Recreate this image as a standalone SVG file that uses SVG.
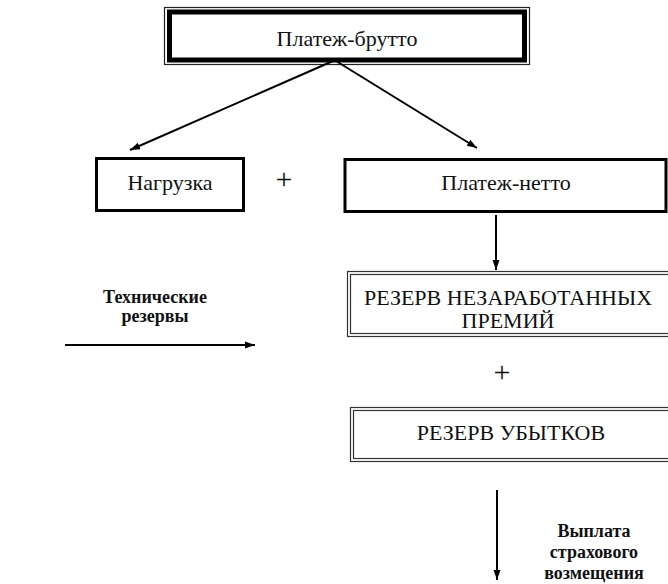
<svg xmlns="http://www.w3.org/2000/svg" width="668" height="584" viewBox="0 0 668 584">
  <defs>
    <marker id="arrow" viewBox="0 0 10 10" refX="10" refY="5" markerWidth="10" markerHeight="10" markerUnits="userSpaceOnUse" orient="auto">
      <path d="M0,1.5 L10,5 L0,8.5 Z" fill="#000"/>
    </marker>
    <marker id="arrowLong" viewBox="0 0 10 16" refX="10" refY="8" markerWidth="10" markerHeight="16" markerUnits="userSpaceOnUse" orient="auto">
      <path d="M0,4.5 L10,8 L0,11.5 Z" fill="#000"/>
    </marker>
  </defs>
  <style>
    .label { font-size: 22px; fill: #111; text-anchor: middle; }
    .note { font-size: 18px; font-weight: bold; fill: #111; text-anchor: middle; }
    .plus { font-size: 30px; fill: #111; text-anchor: middle; }
    .thin { fill: none; stroke: #222; stroke-width: 1.2; }
    .thick { fill: #fff; stroke: #000; stroke-width: 5; }
    .solid { fill: #fff; stroke: #000; stroke-width: 3; }
    .dbl-out { fill: #fff; stroke: #333; stroke-width: 1.2; }
    .dbl-in { fill: none; stroke: #333; stroke-width: 1.2; }
    .conn { fill: none; stroke: #000; stroke-width: 2; }
  </style>

  <!-- gross premium: framed heavy box -->
  <g id="gross">
    <rect class="thin" x="164.5" y="7.5" width="365" height="57"/>
    <rect class="thick" x="169.5" y="12" width="355" height="48"/>
    <text class="label" font-family="Liberation Serif" x="347" y="46">Платеж-брутто</text>
  </g>

  <!-- loading -->
  <g id="loading">
    <rect class="solid" x="96.5" y="158.5" width="147" height="52"/>
    <text class="label" font-family="Liberation Serif" x="170" y="190">Нагрузка</text>
  </g>

  <!-- net premium -->
  <g id="net">
    <rect class="solid" x="345" y="159.5" width="321" height="52"/>
    <text class="label" font-family="Liberation Serif" x="506" y="190">Платеж-нетто</text>
  </g>

  <!-- unearned premium reserve -->
  <g id="upr">
    <rect class="dbl-out" x="347.5" y="271.5" width="330" height="65"/>
    <rect class="dbl-in" x="350.5" y="274.5" width="330" height="59"/>
    <text class="label" font-family="Liberation Serif" x="508" y="305">РЕЗЕРВ НЕЗАРАБОТАННЫХ</text>
    <text class="label" font-family="Liberation Serif" x="508" y="328">ПРЕМИЙ</text>
  </g>

  <!-- loss reserve -->
  <g id="losses">
    <rect class="dbl-out" x="350.5" y="407.5" width="330" height="54"/>
    <rect class="dbl-in" x="353.5" y="410.5" width="330" height="48"/>
    <text class="label" font-family="Liberation Serif" x="511" y="440">РЕЗЕРВ УБЫТКОВ</text>
  </g>

  <!-- free-standing labels -->
  <g id="signs">
    <text class="plus" font-family="Liberation Serif" x="284" y="189">+</text>
    <text class="plus" font-family="Liberation Serif" x="502" y="382">+</text>
  </g>
  <g id="tech-label">
    <text class="note" font-family="Liberation Serif" x="155" y="303">Технические</text>
    <text class="note" font-family="Liberation Serif" x="155" y="322">резервы</text>
  </g>
  <g id="payout-label">
    <text class="note" font-family="Liberation Serif" x="594" y="537">Выплата</text>
    <text class="note" font-family="Liberation Serif" x="594" y="558">страхового</text>
    <text class="note" font-family="Liberation Serif" x="594" y="579">возмещения</text>
  </g>

  <!-- connectors -->
  <g id="connectors">
    <line class="conn" x1="333" y1="61" x2="130" y2="150" marker-end="url(#arrow)"/>
    <line class="conn" x1="336" y1="61" x2="477" y2="148" marker-end="url(#arrow)"/>
    <line class="conn" x1="496" y1="215" x2="496" y2="270" marker-end="url(#arrowLong)"/>
    <line class="conn" x1="65" y1="345" x2="255" y2="345" marker-end="url(#arrowLong)"/>
    <line class="conn" x1="497" y1="490" x2="497" y2="580" marker-end="url(#arrowLong)"/>
  </g>
</svg>
